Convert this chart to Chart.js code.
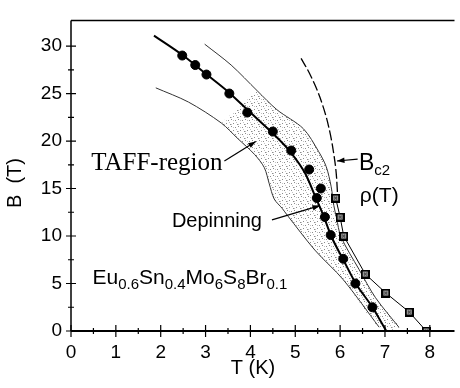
<!DOCTYPE html>
<html>
<head>
<meta charset="utf-8">
<script src="https://cdn.jsdelivr.net/npm/chart.js@4.4.0/dist/chart.umd.min.js"></script>
<style>
  html, body { margin: 0; padding: 0; background: #fff; }
</style>
</head>
<body>
<canvas id="grafico" width="460" height="388"></canvas>
<script>
// depinning points (filled circles)
const depinT = [2.48, 2.77, 3.02, 3.53, 3.93, 4.5, 4.91, 5.31, 5.57, 5.48, 5.66, 5.79, 6.07, 6.34, 6.72];
const depinB = [29, 28, 27, 25, 23, 21, 19, 17, 15, 14, 12, 10.1, 7.6, 5.0, 2.5];

// thick line through the depinning points
const fitT = [1.85, 2.5, 3.0, 3.5, 4.0, 4.5, 4.9, 5.22, 5.46, 5.64, 5.8, 6.06, 6.35, 6.72, 7.03];
const fitB = [31.1, 29, 27.1, 25.2, 23, 20.8, 18.8, 16.6, 14.0, 12.0, 10.0, 7.6, 5.0, 2.5, 0];

// rho(T) squares
const rhoT = [5.9, 6.0, 6.08, 6.56, 7.02, 7.54, 7.92];
const rhoB = [14, 12, 10, 6, 4, 2, 0];

// TAFF-region boundaries
const leftT = [1.89, 2.62, 3.35, 3.72, 4.09, 4.31, 4.42, 4.53, 4.71, 4.82, 5.44, 6.07, 6.87];
const leftB = [25.6, 24.1, 21.9, 20.25, 18.6, 17.2, 15.5, 13.9, 12.9, 12.2, 8.5, 5.4, 0.4];
const rightT = [2.98, 3.57, 4.15, 4.59, 5.18, 5.52, 5.69, 5.8, 5.86, 5.92, 6.02, 6.42, 6.79, 7.31];
const rightB = [30.2, 28.0, 25.3, 23.3, 21.3, 18.9, 17.3, 15.2, 13.2, 11.9, 9.9, 6.5, 3.5, 0.4];

// Bc2 (dashed)
const bc2T = [5.13, 5.33, 5.55, 5.74, 5.85, 5.92, 5.94];
const bc2B = [28.7, 27.0, 24.6, 21.6, 18.9, 16.2, 14.6];

const xTicks = [0, 1, 2, 3, 4, 5, 6, 7, 8];
const xMinor = [0.5, 1.5, 2.5, 3.5, 4.5, 5.5, 6.5, 7.5];
const yTicks = [0, 5, 10, 15, 20, 25, 30];
const yMinor = [2.5, 7.5, 12.5, 17.5, 22.5, 27.5];

const pts = (xs, ys) => xs.map((x, i) => ({ x, y: ys[i] }));

const canvas = document.getElementById("grafico");
const ctx0 = canvas.getContext("2d");

// stipple for the shaded region
const dots = document.createElement("canvas");
dots.width = 7; dots.height = 7;
const dg = dots.getContext("2d");
dg.fillStyle = "#8c8c8c";
[[0, 0], [4, 1], [2, 4], [6, 5]].forEach(([a, b]) => dg.fillRect(a, b, 1, 1));
dg.fillStyle = "#c4c4c4";
[[2, 1], [5, 3], [0, 5]].forEach(([a, b]) => dg.fillRect(a, b, 1, 1));
const stipple = ctx0.createPattern(dots, "repeat");

// square marker with cross
const sq = document.createElement("canvas");
sq.width = 9; sq.height = 9;
const sg = sq.getContext("2d");
sg.fillStyle = "#000"; sg.fillRect(0, 0, 9, 9);
sg.fillStyle = "#a8a8a8"; sg.fillRect(2, 2, 5, 5);
sg.fillStyle = "#000";
sg.fillRect(3, 3, 1, 1); sg.fillRect(5, 3, 1, 1); sg.fillRect(4, 4, 1, 1);
sg.fillRect(3, 5, 1, 1); sg.fillRect(5, 5, 1, 1);

const leftPts = pts(leftT, leftB);
const rightPts = pts(rightT, rightB);
const region = leftPts.slice(2).concat(rightPts.slice(2).reverse());

const tickFont = { family: "'Liberation Sans', Arial, sans-serif", size: 19 };

const extras = {
  id: "extras",
  afterDraw(chart) {
    const { ctx, chartArea: a, scales: { x, y } } = chart;
    const X = (v) => x.getPixelForValue(v);
    const Y = (v) => y.getPixelForValue(v);
    ctx.save();
    ctx.strokeStyle = "#000";
    ctx.fillStyle = "#000";

    // frame
    ctx.lineWidth = 1.5;
    ctx.beginPath();
    ctx.moveTo(a.left, a.top); ctx.lineTo(a.right, a.top);
    ctx.stroke();
    ctx.lineWidth = 2;
    ctx.beginPath();
    ctx.moveTo(a.left, a.bottom); ctx.lineTo(a.right, a.bottom);
    ctx.stroke();
    ctx.lineWidth = 1.5;
    ctx.beginPath();
    ctx.moveTo(a.left, a.top); ctx.lineTo(a.left, a.bottom);
    ctx.stroke();

    // ticks crossing the axes
    ctx.lineWidth = 1.2;
    ctx.beginPath();
    xTicks.forEach(v => { ctx.moveTo(X(v), a.bottom - 6); ctx.lineTo(X(v), a.bottom + 6); });
    xMinor.forEach(v => { ctx.moveTo(X(v), a.bottom - 3); ctx.lineTo(X(v), a.bottom + 3); });
    yTicks.forEach(v => { ctx.moveTo(a.left - 5, Y(v)); ctx.lineTo(a.left + 5, Y(v)); });
    yMinor.forEach(v => { ctx.moveTo(a.left - 3, Y(v)); ctx.lineTo(a.left + 3, Y(v)); });
    ctx.stroke();

    // arrows
    function arrow(t1, b1, t2, b2) {
      const x1 = X(t1), y1 = Y(b1), x2 = X(t2), y2 = Y(b2);
      const ang = Math.atan2(y2 - y1, x2 - x1);
      ctx.lineWidth = 1.2;
      ctx.beginPath(); ctx.moveTo(x1, y1); ctx.lineTo(x2, y2); ctx.stroke();
      ctx.beginPath();
      ctx.moveTo(x2, y2);
      ctx.lineTo(x2 - 8 * Math.cos(ang - 0.35), y2 - 8 * Math.sin(ang - 0.35));
      ctx.lineTo(x2 - 8 * Math.cos(ang + 0.35), y2 - 8 * Math.sin(ang + 0.35));
      ctx.closePath(); ctx.fill();
    }
    arrow(3.42, 17.9, 4.12, 19.95);
    arrow(6.39, 18.1, 5.93, 17.9);
    arrow(4.48, 11.7, 5.55, 13.2);

    ctx.textBaseline = "alphabetic";
    ctx.textAlign = "left";
    ctx.font = "25px 'Liberation Serif', 'Times New Roman', serif";
    ctx.fillText("TAFF-region", X(0.45), Y(16.9));

    ctx.font = "23px 'Liberation Sans', Arial, sans-serif";
    let bx = X(6.42);
    ctx.fillText("B", bx, Y(16.9));
    bx += ctx.measureText("B").width;
    ctx.font = "15px 'Liberation Sans', Arial, sans-serif";
    ctx.fillText("c2", bx, Y(16.9) + 5);

    ctx.font = "21px 'Liberation Sans', Arial, sans-serif";
    ctx.fillText("\u03c1(T)", X(6.44), Y(13.6));

    ctx.font = "20px 'Liberation Sans', Arial, sans-serif";
    ctx.fillText("Depinning", X(2.25), Y(10.9));

    // formula with subscripts
    const parts = [["Eu", 0], ["0.6", 1], ["Sn", 0], ["0.4", 1], ["Mo", 0], ["6", 1], ["S", 0], ["8", 1], ["Br", 0], ["0.1", 1]];
    let fx = X(0.48);
    const fy = Y(5.0);
    parts.forEach(([s, sub]) => {
      ctx.font = (sub ? "15px" : "21px") + " 'Liberation Sans', Arial, sans-serif";
      ctx.fillText(s, fx, fy + (sub ? 5 : 0));
      fx += ctx.measureText(s).width;
    });

    // axis titles
    ctx.font = "20px 'Liberation Sans', Arial, sans-serif";
    ctx.textAlign = "center";
    ctx.textBaseline = "middle";
    ctx.fillText("T (K)", 253, 368);
    ctx.translate(15, 183);
    ctx.rotate(-Math.PI / 2);
    ctx.fillText("B  (T)", 0, 0);
    ctx.restore();
  }
};

new Chart(canvas, {
  type: "scatter",
  data: {
    datasets: [
      {
        label: "Depinning",
        data: pts(depinT, depinB),
        showLine: false,
        pointRadius: 4.5,
        pointBackgroundColor: "#000",
        pointBorderColor: "#000",
      },
      {
        label: "fit",
        data: pts(fitT, fitB),
        showLine: true,
        borderColor: "#000",
        borderWidth: 2,
        pointRadius: 0,
        cubicInterpolationMode: "monotone",
      },
      {
        label: "rho(T)",
        data: pts(rhoT, rhoB),
        showLine: true,
        borderColor: "#000",
        borderWidth: 1,
        pointStyle: sq,
        tension: 0,
      },
      {
        label: "Bc2",
        data: pts(bc2T, bc2B),
        showLine: true,
        borderColor: "#000",
        borderWidth: 1.3,
        borderDash: [10, 3],
        pointRadius: 0,
        cubicInterpolationMode: "monotone",
      },
      {
        label: "left",
        data: leftPts,
        showLine: true,
        borderColor: "#333",
        borderWidth: 1,
        pointRadius: 0,
        tension: 0.3,
      },
      {
        label: "right",
        data: rightPts,
        showLine: true,
        borderColor: "#333",
        borderWidth: 1,
        pointRadius: 0,
        tension: 0.3,
      },
      {
        label: "TAFF",
        data: region,
        showLine: true,
        fill: "shape",
        backgroundColor: stipple,
        borderColor: "rgba(0,0,0,0)",
        borderWidth: 1,
        pointRadius: 0,
        tension: 0.3,
      },
    ],
  },
  options: {
    responsive: false,
    animation: false,
    layout: { padding: { top: 7, right: 0, left: 0, bottom: 0 } },
    plugins: { legend: { display: false }, tooltip: { enabled: false } },
    scales: {
      x: {
        type: "linear",
        min: 0,
        max: 8.55,
        afterBuildTicks: (s) => { s.ticks = xTicks.map(v => ({ value: v })); },
        afterFit: (s) => { s.height = 57; },
        grid: { display: false, drawTicks: false },
        border: { display: false },
        ticks: { color: "#000", font: tickFont, padding: 10, maxRotation: 0, autoSkip: false },
      },
      y: {
        type: "linear",
        min: 0,
        max: 32.7,
        afterBuildTicks: (s) => { s.ticks = yTicks.map(v => ({ value: v })); },
        afterFit: (s) => { s.width = 71; },
        grid: { display: false, drawTicks: false },
        border: { display: false },
        ticks: { color: "#000", font: tickFont, padding: 9, autoSkip: false },
      },
    },
  },
  plugins: [extras],
});
</script>
</body>
</html>
